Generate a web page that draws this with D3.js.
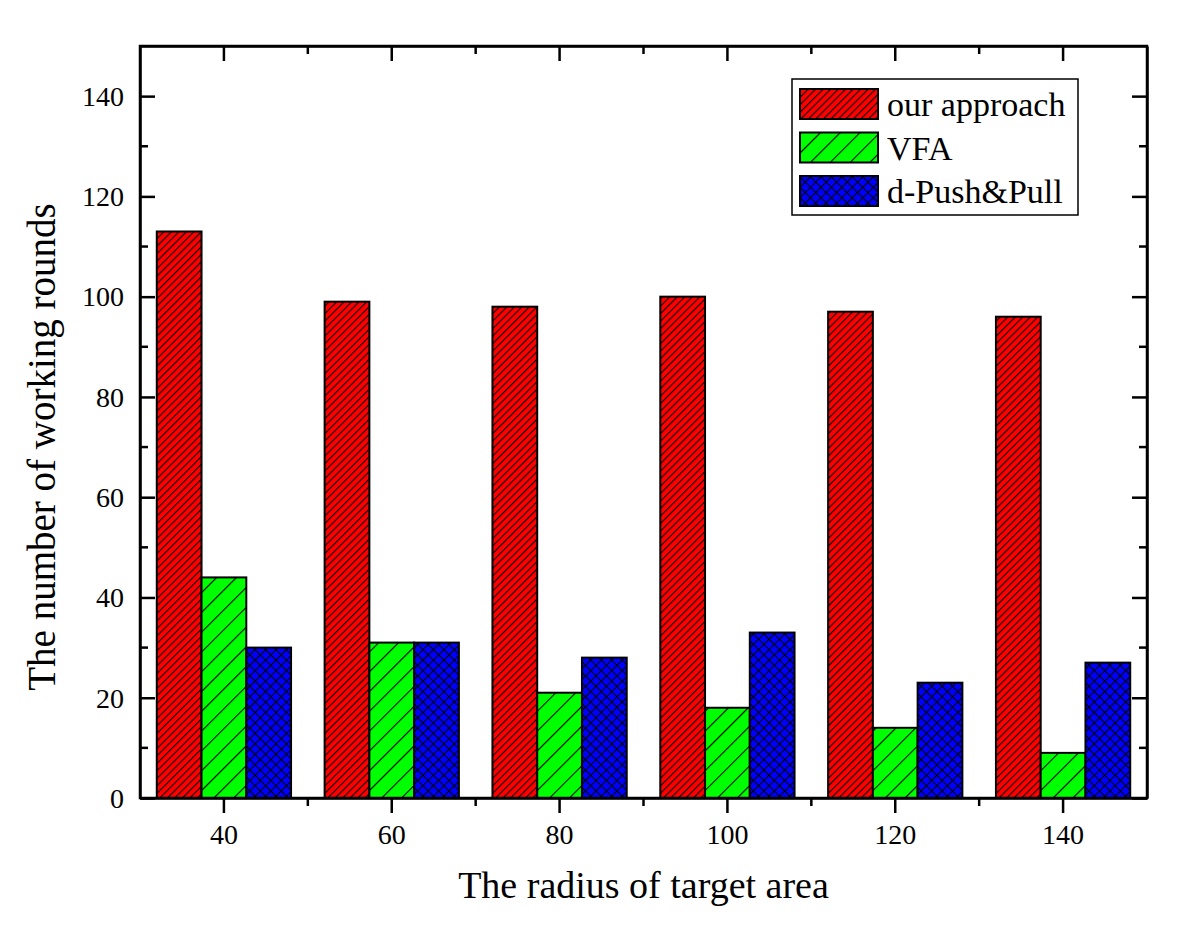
<!DOCTYPE html>
<html>
<head>
<meta charset="utf-8">
<script src="https://cdn.jsdelivr.net/npm/d3@7"></script>
<style>
  body { margin: 0; background: #fff; }
  text { font-family: "Liberation Serif", "Times New Roman", serif; fill: #000; }
</style>
</head>
<body>
<div id="chart"></div>
<script>
// data
var radii = ["40", "60", "80", "100", "120", "140"];
var seriesNames = ["our approach", "VFA", "d-Push&Pull"];
var ourApproach = [113, 99, 98, 100, 97, 96];
var vfa = [44, 31, 21, 18, 14, 9];
var pushPull = [30, 31, 28, 33, 23, 27];
var yTicks = [0, 20, 40, 60, 80, 100, 120, 140];
var yMinorTicks = [10, 30, 50, 70, 90, 110, 130];

var seriesValues = [ourApproach, vfa, pushPull];
var fills = ["#ff0000", "#00ff00", "#0000ff"];
var patternIds = ["hatchRed", "hatchGreen", "hatchBlue"];

var width = 1200, height = 937;
var margin = {top: 46, right: 53, bottom: 139, left: 140};

var svg = d3.select("#chart").append("svg")
    .attr("width", width)
    .attr("height", height);

// hatch patterns
var defs = svg.append("defs");
function hatch(id, color, size, cross) {
    var p = defs.append("pattern")
        .attr("id", id)
        .attr("patternUnits", "userSpaceOnUse")
        .attr("width", size)
        .attr("height", size)
        .attr("patternTransform", "rotate(45)");
    p.append("rect").attr("width", size).attr("height", size).attr("fill", color);
    p.append("line")
        .attr("x1", 0).attr("y1", 0).attr("x2", 0).attr("y2", size)
        .attr("stroke", "#000").attr("stroke-width", 2.2);
    if (cross) {
        p.append("line")
            .attr("x1", 0).attr("y1", 0).attr("x2", size).attr("y2", 0)
            .attr("stroke", "#000").attr("stroke-width", 2.2);
    }
}
hatch("hatchRed", fills[0], 5.3, false);
hatch("hatchGreen", fills[1], 14, false);
hatch("hatchBlue", fills[2], 7.4, true);

var x0 = d3.scaleBand()
    .domain(radii)
    .range([margin.left, width - margin.right])
    .padding(0);

var x1 = d3.scaleBand()
    .domain(seriesNames)
    .range([x0.bandwidth() * 0.1, x0.bandwidth() * 0.9]);

var y = d3.scaleLinear()
    .domain([0, 150])
    .range([height - margin.bottom, margin.top]);

// bars
var groups = svg.append("g")
    .selectAll("g")
    .data(radii)
    .enter().append("g")
    .attr("transform", function (d) { return "translate(" + x0(d) + ",0)"; });

groups.selectAll("rect")
    .data(function (d, i) {
        return seriesNames.map(function (s, j) {
            return {key: s, idx: j, value: seriesValues[j][i]};
        });
    })
    .enter().append("rect")
    .attr("x", function (d) { return x1(d.key); })
    .attr("y", function (d) { return y(d.value); })
    .attr("width", x1.bandwidth())
    .attr("height", function (d) { return y(0) - y(d.value); })
    .attr("fill", function (d) { return "url(#" + patternIds[d.idx] + ")"; })
    .attr("stroke", "#000")
    .attr("stroke-width", 2);

// axes
var x0Edges = radii.map(function (d) { return x0(d); }).slice(1);
var yBottom = y(0), yTop = y(150);
var xLeft = margin.left, xRight = width - margin.right;

var bottomAxis = svg.append("g")
    .attr("transform", "translate(0," + yBottom + ")")
    .call(d3.axisBottom(x0).tickSize(15).tickSizeOuter(0).tickPadding(11));
bottomAxis.selectAll(null).data(x0Edges).enter().append("line")
    .attr("x1", function (d) { return d; }).attr("x2", function (d) { return d; })
    .attr("y1", 0).attr("y2", 8).attr("stroke", "#000").attr("stroke-width", 2.5);

var topAxis = svg.append("g")
    .attr("transform", "translate(0," + yTop + ")")
    .call(d3.axisBottom(x0).tickSize(15).tickSizeOuter(0).tickFormat(""));
topAxis.selectAll(null).data(x0Edges).enter().append("line")
    .attr("x1", function (d) { return d; }).attr("x2", function (d) { return d; })
    .attr("y1", 0).attr("y2", 8).attr("stroke", "#000").attr("stroke-width", 2.5);

var leftAxis = svg.append("g")
    .attr("transform", "translate(" + xLeft + ",0)")
    .call(d3.axisRight(y).tickValues(yTicks).tickSize(15).tickSizeOuter(0).tickFormat(""));
leftAxis.selectAll(null).data(yMinorTicks).enter().append("line")
    .attr("y1", y).attr("y2", y).attr("x1", 0).attr("x2", 8)
    .attr("stroke", "#000").attr("stroke-width", 2.5);
leftAxis.selectAll(null).data(yTicks).enter().append("text")
    .attr("x", -16).attr("y", y).attr("dy", "0.35em")
    .attr("text-anchor", "end")
    .attr("font-size", 28)
    .text(function (d) { return d; });

var rightAxis = svg.append("g")
    .attr("transform", "translate(" + xRight + ",0)")
    .call(d3.axisLeft(y).tickValues(yTicks).tickSize(15).tickSizeOuter(0).tickFormat(""));
rightAxis.selectAll(null).data(yMinorTicks).enter().append("line")
    .attr("y1", y).attr("y2", y).attr("x1", 0).attr("x2", -8)
    .attr("stroke", "#000").attr("stroke-width", 2.5);

svg.selectAll(".domain").attr("stroke-width", 2.5);
svg.selectAll(".tick line").attr("stroke-width", 2.5);
bottomAxis.selectAll(".tick text")
    .attr("font-size", 28);

// frame
svg.append("rect")
    .attr("x", xLeft).attr("y", yTop)
    .attr("width", xRight - xLeft).attr("height", yBottom - yTop)
    .attr("fill", "none").attr("stroke", "#000").attr("stroke-width", 2.5);

// axis titles
svg.append("text")
    .attr("x", (xLeft + xRight) / 2)
    .attr("y", 898)
    .attr("text-anchor", "middle")
    .attr("font-size", 38)
    .text("The radius of target area");

svg.append("text")
    .attr("transform", "translate(55,447) rotate(-90)")
    .attr("text-anchor", "middle")
    .attr("font-size", 39)
    .text("The number of working rounds");

// legend
var legend = svg.append("g").attr("transform", "translate(792,79)");
legend.append("rect")
    .attr("width", 286).attr("height", 136)
    .attr("fill", "#fff").attr("stroke", "#000").attr("stroke-width", 1.5);
var item = legend.selectAll("g")
    .data(seriesNames)
    .enter().append("g")
    .attr("transform", function (d, i) { return "translate(8," + (10 + i * 43.5) + ")"; });
item.append("rect")
    .attr("width", 78).attr("height", 30)
    .attr("fill", function (d, i) { return "url(#" + patternIds[i] + ")"; })
    .attr("stroke", "#000").attr("stroke-width", 2);
item.append("text")
    .attr("x", 87).attr("y", 27)
    .attr("font-size", 34)
    .text(function (d) { return d; });
</script>
</body>
</html>
